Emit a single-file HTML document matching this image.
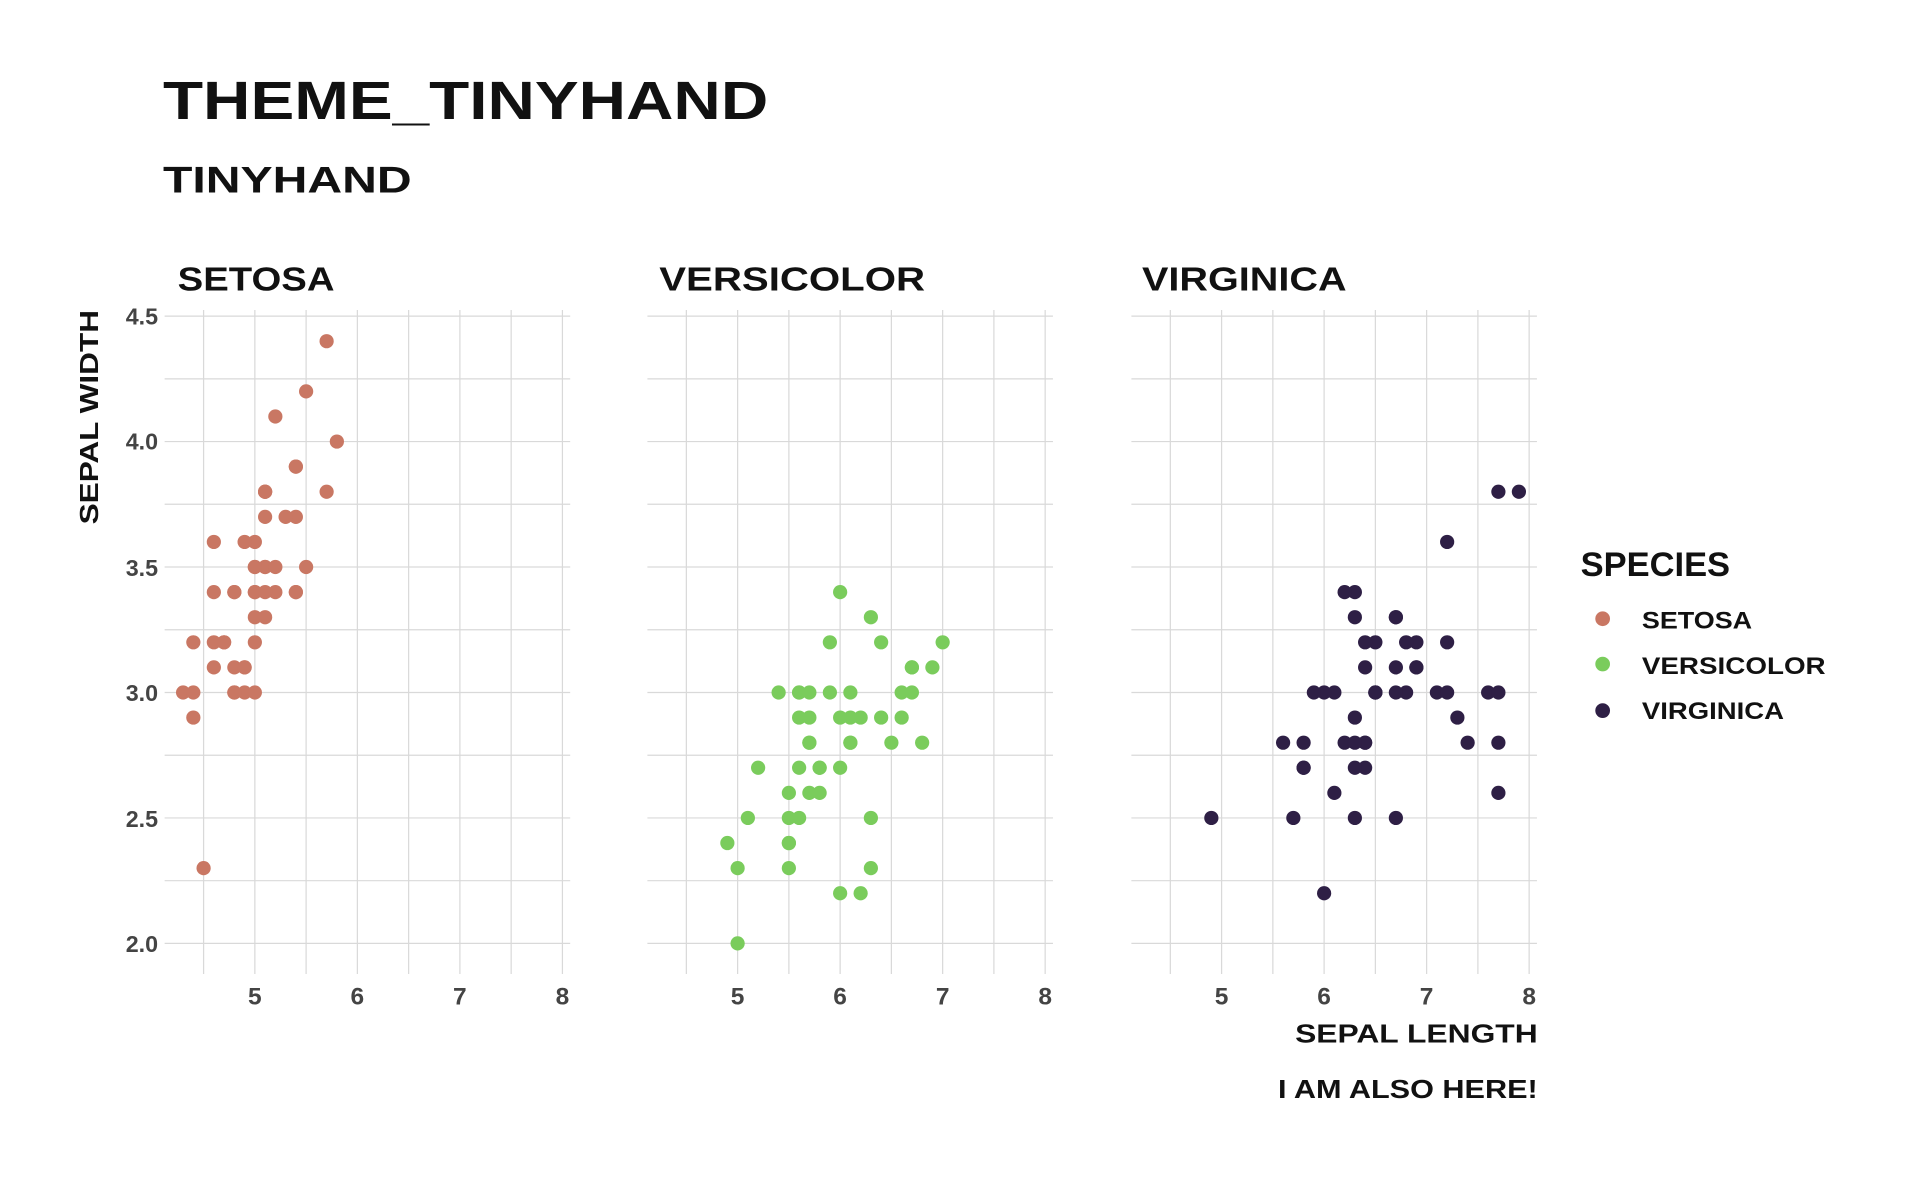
<!DOCTYPE html>
<html><head><meta charset="utf-8"><style>
html,body{margin:0;padding:0;background:#fff;}
svg{display:block;}
text{font-family:"Liberation Sans",sans-serif;font-weight:bold;}
</style></head><body>
<svg id="s" width="1920" height="1186" viewBox="0 0 1567 968" preserveAspectRatio="none" xmlns="http://www.w3.org/2000/svg">
<rect width="1567" height="968" fill="#fff"/>
<g id="grid"></g>
<g id="pts"></g>
<text x="133" y="97" font-size="44" textLength="494" lengthAdjust="spacingAndGlyphs" fill="#111">THEME_TINYHAND</text>
<text x="133" y="157" font-size="30" textLength="203" lengthAdjust="spacingAndGlyphs" fill="#111">TINYHAND</text>
<text x="145" y="237" font-size="27" textLength="128" lengthAdjust="spacingAndGlyphs" fill="#111">SETOSA</text>
<text x="538" y="237" font-size="27" textLength="217" lengthAdjust="spacingAndGlyphs" fill="#111">VERSICOLOR</text>
<text x="932" y="237" font-size="27" textLength="167" lengthAdjust="spacingAndGlyphs" fill="#111">VIRGINICA</text>
<g font-size="19" fill="#444" text-anchor="end">
<text x="129" y="265">4.5</text><text x="129" y="367">4.0</text><text x="129" y="470">3.5</text>
<text x="129" y="572">3.0</text><text x="129" y="675">2.5</text><text x="129" y="777">2.0</text>
</g>
<g id="xt" font-size="20" fill="#444" text-anchor="middle"></g>
<text transform="translate(80,428) rotate(-90)" font-size="21" textLength="175" lengthAdjust="spacingAndGlyphs" fill="#111">SEPAL WIDTH</text>
<text x="1057" y="851" font-size="21" textLength="198" lengthAdjust="spacingAndGlyphs" fill="#111">SEPAL LENGTH</text>
<text x="1043" y="896" font-size="21" textLength="212" lengthAdjust="spacingAndGlyphs" fill="#111">I AM ALSO HERE!</text>
<text x="1290" y="470" font-size="28" textLength="122" lengthAdjust="spacingAndGlyphs" fill="#111">SPECIES</text>
<circle cx="1308" cy="505" r="6" fill="#c97763"/>
<circle cx="1308" cy="542" r="6" fill="#7acc5c"/>
<circle cx="1308" cy="580" r="6" fill="#2e1f45"/>
<text x="1340" y="513" font-size="20" textLength="90" lengthAdjust="spacingAndGlyphs" fill="#111">SETOSA</text>
<text x="1340" y="550" font-size="20" textLength="150" lengthAdjust="spacingAndGlyphs" fill="#111">VERSICOLOR</text>
<text x="1340" y="587" font-size="20" textLength="116" lengthAdjust="spacingAndGlyphs" fill="#111">VIRGINICA</text>
</svg>
<script>
var NS="http://www.w3.org/2000/svg";
function el(t,a,p){var e=document.createElementNS(NS,t);for(var k in a)e.setAttribute(k,a[k]);document.getElementById(p).appendChild(e);return e;}
var x5=[208,602,997],U=83.67,YU=204.8;
function X(p,v){return x5[p]+(v-5)*U;}
function Y(v){return 258+(4.5-v)*YU;}
for(var p=0;p<3;p++){
 var L=x5[p]-0.88*U,R=L+331;
 for(var k=0;k<=10;k++){var y=Y(2+k*0.25);el("line",{x1:L,x2:R,y1:y,y2:y,stroke:"#d9d9d9","stroke-width":1},"grid");}
 for(var k=0;k<=7;k++){var x=X(p,4.5+k*0.5);el("line",{x1:x,x2:x,y1:253,y2:795,stroke:"#d9d9d9","stroke-width":1},"grid");}
 for(var k=5;k<=8;k++){var t=el("text",{x:X(p,k),y:820},"xt");t.textContent=k;}
}
var d=[
"5.1,3.5;4.9,3.0;4.7,3.2;4.6,3.1;5.0,3.6;5.4,3.9;4.6,3.4;5.0,3.4;4.4,2.9;4.9,3.1;5.4,3.7;4.8,3.4;4.8,3.0;4.3,3.0;5.8,4.0;5.7,4.4;5.4,3.9;5.1,3.5;5.7,3.8;5.1,3.8;5.4,3.4;5.1,3.7;4.6,3.6;5.1,3.3;4.8,3.4;5.0,3.0;5.0,3.4;5.2,3.5;5.2,3.4;4.7,3.2;4.8,3.1;5.4,3.4;5.2,4.1;5.5,4.2;4.9,3.1;5.0,3.2;5.5,3.5;4.9,3.6;4.4,3.0;5.1,3.4;5.0,3.5;4.5,2.3;4.4,3.2;5.0,3.5;5.1,3.8;4.8,3.0;5.1,3.8;4.6,3.2;5.3,3.7;5.0,3.3",
"7.0,3.2;6.4,3.2;6.9,3.1;5.5,2.3;6.5,2.8;5.7,2.8;6.3,3.3;4.9,2.4;6.6,2.9;5.2,2.7;5.0,2.0;5.9,3.0;6.0,2.2;6.1,2.9;5.6,2.9;6.7,3.1;5.6,3.0;5.8,2.7;6.2,2.2;5.6,2.5;5.9,3.2;6.1,2.8;6.3,2.5;6.1,2.8;6.4,2.9;6.6,3.0;6.8,2.8;6.7,3.0;6.0,2.9;5.7,2.6;5.5,2.4;5.5,2.4;5.8,2.7;6.0,2.7;5.4,3.0;6.0,3.4;6.7,3.1;6.3,2.3;5.6,3.0;5.5,2.5;5.5,2.6;6.1,3.0;5.8,2.6;5.0,2.3;5.6,2.7;5.7,3.0;5.7,2.9;6.2,2.9;5.1,2.5;5.7,2.8",
"6.3,3.3;5.8,2.7;7.1,3.0;6.3,2.9;6.5,3.0;7.6,3.0;4.9,2.5;7.3,2.9;6.7,2.5;7.2,3.6;6.5,3.2;6.4,2.7;6.8,3.0;5.7,2.5;5.8,2.8;6.4,3.2;6.5,3.0;7.7,3.8;7.7,2.6;6.0,2.2;6.9,3.2;5.6,2.8;7.7,2.8;6.3,2.7;6.7,3.3;7.2,3.2;6.2,2.8;6.1,3.0;6.4,2.8;7.2,3.0;7.4,2.8;7.9,3.8;6.4,2.8;6.3,2.8;6.1,2.6;7.7,3.0;6.3,3.4;6.4,3.1;6.0,3.0;6.9,3.1;6.7,3.1;6.9,3.1;5.8,2.7;6.8,3.2;6.7,3.3;6.7,3.0;6.3,2.5;6.5,3.0;6.2,3.4;5.9,3.0"];
var c=["#c97763","#7acc5c","#2e1f45"];
for(var p=0;p<3;p++){d[p].split(";").forEach(function(s){var a=s.split(",");el("circle",{cx:X(p,+a[0]),cy:Y(+a[1]),r:5.8,fill:c[p]},"pts");});}
</script>
</body></html>
